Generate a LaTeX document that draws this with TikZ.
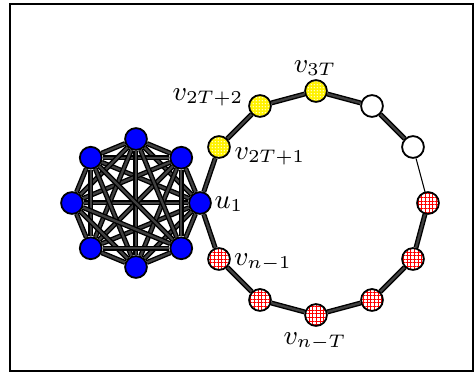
\documentclass[tikz,border=0pt]{standalone}
\usetikzlibrary{patterns.meta,backgrounds}

\begin{document}
\begin{tikzpicture}[x=0.33pt, y=0.33pt,
    vtx/.style={circle, draw, line width=0.6pt, minimum size=7.2pt, inner sep=0pt},
    clq/.style={vtx, fill=blue},
    yel/.style={vtx, preaction={fill=yellow}, pattern={Dots[distance=0.9pt, radius=0.25pt]}, pattern color=white},
    hot/.style={vtx, preaction={fill=white}, pattern={Hatch[distance=1.2pt, angle=0, line width=0.3pt]}, pattern color=red},
    emp/.style={vtx, fill=white},
    lbl/.style={inner sep=0pt, font=\fontsize{9.1}{11}\selectfont},
    edge/.style={draw=black, line width=0.45pt, double=black!75, double distance=0.75pt},
    weak/.style={draw=black, line width=0.35pt}]
    \useasboundingbox (0,0) rectangle (474,372);
    \draw[line width=0.66pt] (10,1) rectangle (473,368);
    % clique
    \foreach \i in {0,...,7}
        \node[clq] (k\i) at ([shift={(136,169)}]45*\i:64) {};
    % cycle
    \node[hot] (c0) at ([shift={(316,169)}]0:112) {};
    \node[emp] (c1) at ([shift={(316,169)}]30:112) {};
    \node[emp] (c2) at ([shift={(316,169)}]60:112) {};
    \node[yel] (c3) at ([shift={(316,169)}]90:112) {};
    \node[yel] (c4) at ([shift={(316,169)}]120:112) {};
    \node[yel] (c5) at ([shift={(316,169)}]150:112) {};
    \node[hot] (c7) at ([shift={(316,169)}]210:112) {};
    \node[hot] (c8) at ([shift={(316,169)}]240:112) {};
    \node[hot] (c9) at ([shift={(316,169)}]270:112) {};
    \node[hot] (c10) at ([shift={(316,169)}]300:112) {};
    \node[hot] (c11) at ([shift={(316,169)}]330:112) {};
    % labels
    \node[lbl] (lu) at (229,168) {$u_1$};
    \node[lbl] (l3) at (315,304) {$v_{3T}$};
    \node[lbl] (l4) at (208,275) {$v_{2T+2}$};
    \node[lbl] (l5) at (270,216) {$v_{2T+1}$};
    \node[lbl] (l7) at (263,110) {$v_{n-1}$};
    \node[lbl] (l9) at (315,31) {$v_{n-T}$};
    \begin{scope}[on background layer]
        \foreach \i in {0,...,6}
            \foreach \j in {\i,...,7}
                {\ifnum\i<\j \draw[edge] (k\i) -- (k\j); \fi}
        \draw[edge] (k0) -- (c5) -- (c4) -- (c3) -- (c2) -- (c1);
        \draw[weak] (c1) -- (c0);
        \draw[edge] (c0) -- (c11) -- (c10) -- (c9) -- (c8) -- (c7) -- (k0);
    \end{scope}
\end{tikzpicture}
\end{document}
